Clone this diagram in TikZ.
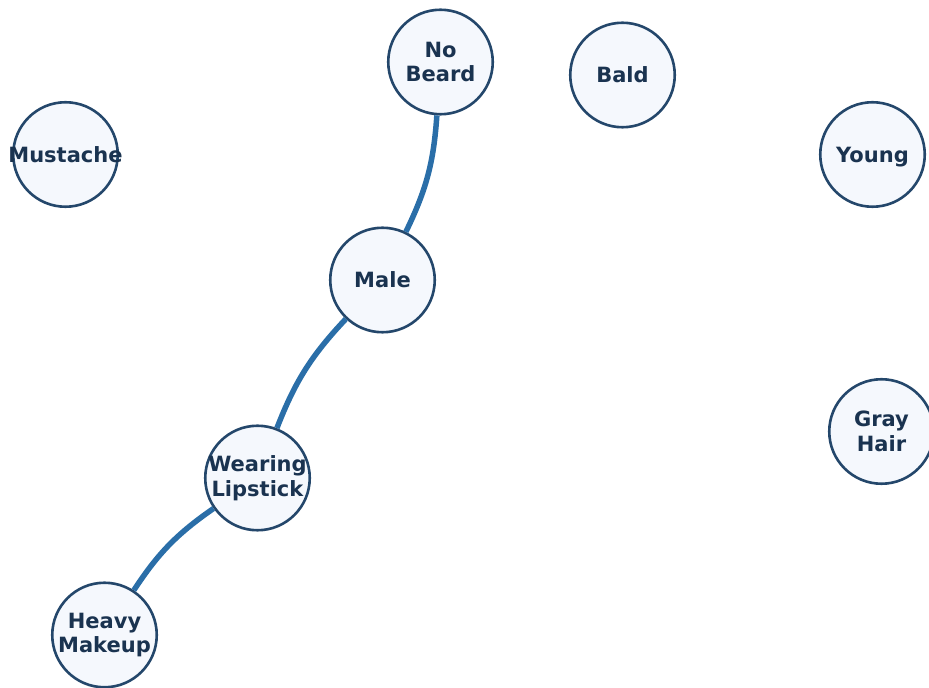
\documentclass[tikz,border=0pt]{standalone}
\usepackage{fontspec}
\newfontfamily\nodefont{DejaVu Sans}
\definecolor{nodefill}{HTML}{F5F8FD}
\definecolor{nodeline}{HTML}{24476B}
\definecolor{nodetext}{HTML}{1A3350}
\definecolor{edgecol}{HTML}{2A6EA8}
\begin{document}
\begin{tikzpicture}[x=1pt,y=1pt,
  attr/.style={circle,draw=nodeline,fill=nodefill,line width=2.6pt,
    minimum size=104.5pt,inner sep=0pt,align=center,text=nodetext,
    font=\nodefont\bfseries\fontsize{21}{24.5}\selectfont},
  link/.style={draw=edgecol,line width=5.5pt}]
\useasboundingbox (0,0) rectangle (929,688);
\node[attr] (nobeard) at (440.5,626) {No\\Beard};
\node[attr] (bald) at (622.5,613) {Bald};
\node[attr] (mustache) at (65.5,533.5) {\makebox[0pt]{Mustache}};
\node[attr] (young) at (872.5,533.5) {\raisebox{0pt}[\height][0pt]{Young}};
\node[attr] (male) at (382.5,408) {Male};
\node[attr] (gray) at (881.5,256.5) {Gray\\Hair};
\node[attr] (lipstick) at (257.5,210) {\makebox[0pt]{Wearing}\\\makebox[0pt]{Lipstick}};
\node[attr] (makeup) at (104.5,53) {\makebox[0pt]{Heavy}\\\makebox[0pt]{Makeup}};
\draw[link] (nobeard) to[bend left=11] (male);
\draw[link] (male) to[bend right=11] (lipstick);
\draw[link] (lipstick) to[bend right=11] (makeup);
\end{tikzpicture}
\end{document}
